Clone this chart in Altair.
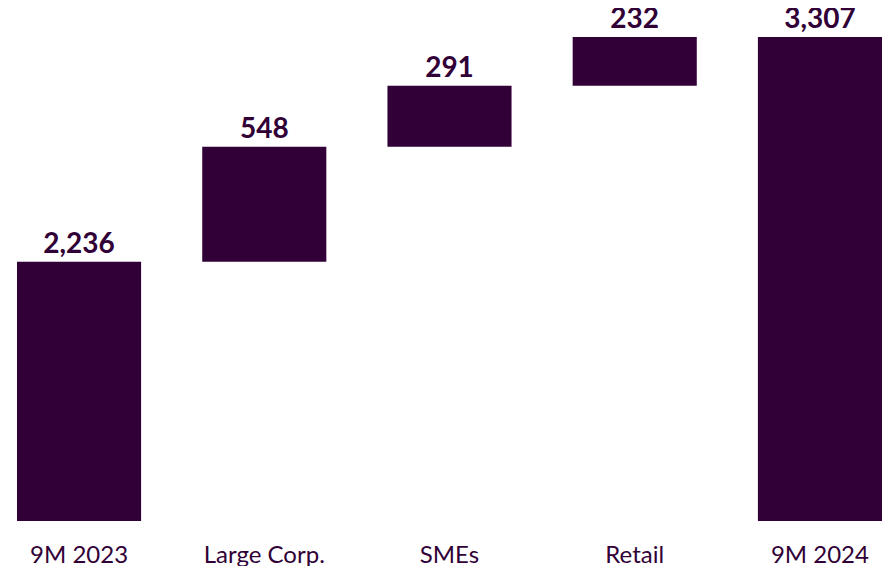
import altair as alt
import pandas as pd

categories = ["9M 2023", "Large Corp.", "SMEs", "Retail", "9M 2024"]
values = [2236, 548, 291, 232, 3307]
kinds = ["total", "delta", "delta", "delta", "total"]

BASE = 1000
rows = []
running = BASE
for c, v, k in zip(categories, values, kinds):
    if k == "total":
        start, end = BASE, v
        running = v
    else:
        start, end = running, running + v
        running = end
    rows.append({"cat": c, "start": start, "end": end, "label": f"{v:,}"})
df = pd.DataFrame(rows)

COLOR = "#310036"
TOP = 4
H = 513 - TOP
ymax = BASE + H / 0.2098

x = alt.X("cat:N", sort=categories,
          scale=alt.Scale(range=[9, 874], paddingInner=0.33, paddingOuter=0),
          axis=alt.Axis(title=None, domain=False, ticks=False, tickSize=0,
                        labelAngle=0, labelFont="Lato", labelFontSize=24,
                        labelColor=COLOR, labelBaseline="alphabetic",
                        labelPadding=41))
y = alt.Y("start:Q", scale=alt.Scale(domain=[BASE, ymax], nice=False, zero=False),
          axis=None)

bars = alt.Chart(df).mark_bar(color=COLOR).encode(x=x, y=y, y2="end:Q")
text = alt.Chart(df).mark_text(font="Lato", fontWeight="bold", fontSize=28,
                               color=COLOR, baseline="alphabetic", dy=-9).encode(
    x=alt.X("cat:N", sort=categories),
    y=alt.Y("end:Q"),
    text="label:N")

chart = (bars + text).properties(
    width=875, height=H,
    background="white",
    autosize=alt.AutoSizeParams(type="none"),
    padding={"left": 0, "top": TOP, "right": 0, "bottom": 45},
).configure_view(strokeWidth=0, stroke="transparent")

chart.save("out.html", embed_options={"renderer": "svg", "actions": False})
